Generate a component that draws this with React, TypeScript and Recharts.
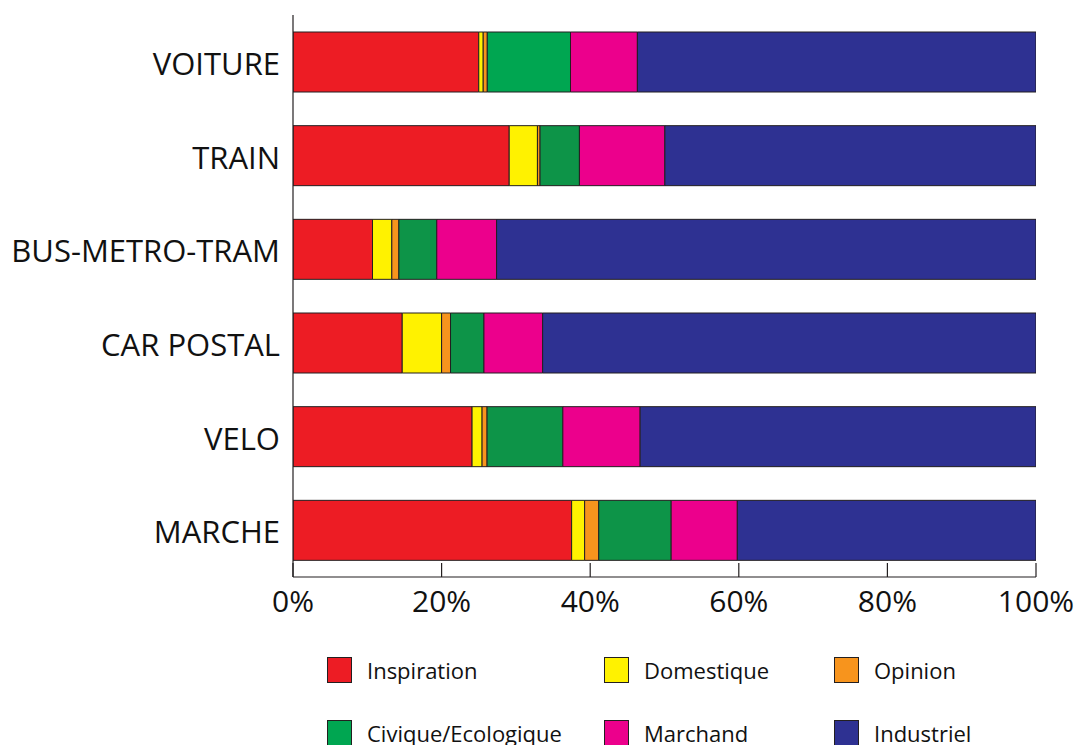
import { BarChart, Bar, XAxis, YAxis, Cell } from "recharts";

const modes = ["VOITURE", "TRAIN", "BUS-METRO-TRAM", "CAR POSTAL", "VELO", "MARCHE"];

const inspiration = [25.0, 29.1, 10.7, 14.7, 24.1, 37.5];
const domestique = [0.6, 3.8, 2.6, 5.3, 1.35, 1.75];
const opinion = [0.55, 0.35, 0.95, 1.2, 0.67, 1.9];
const civique = [11.2, 5.3, 5.1, 4.5, 10.2, 9.75];
const marchand = [9.0, 11.5, 8.05, 7.9, 10.4, 8.9];
const industriel = [53.65, 49.95, 72.6, 66.4, 53.28, 40.2];

const xTicks = [0, 20, 40, 60, 80, 100];

const data = modes.map((name, i) => ({
  name,
  inspiration: inspiration[i],
  domestique: domestique[i],
  opinion: opinion[i],
  civique: civique[i],
  marchand: marchand[i],
  industriel: industriel[i],
}));

const series = [
  { key: "inspiration", label: "Inspiration", color: "#ED1C24" },
  { key: "domestique", label: "Domestique", color: "#FFF200" },
  { key: "opinion", label: "Opinion", color: "#F7941D" },
  { key: "civique", label: "Civique/Ecologique", color: "#00A651" },
  { key: "marchand", label: "Marchand", color: "#EC008C" },
  { key: "industriel", label: "Industriel", color: "#2E3192" },
];

const FONT = "'Open Sans', sans-serif";
const INK = "#231F20";

// darker green on every row except the first one
const civiqueColor = (i: number) => (i === 0 ? "#00A651" : "#0D9448");

function XTick(props: any) {
  const { x, y, payload } = props;
  return (
    <g>
      <line x1={x} x2={x} y1={y - 14} y2={y} stroke={INK} strokeWidth={1.2} />
      <text x={x} y={y + 35} textAnchor="middle" fontSize={30} fontFamily={FONT} fill="#111">
        {`${payload.value}%`}
      </text>
    </g>
  );
}

const legendCols = [327, 604, 834];
const legendRows = [657, 720];

export default function App() {
  return (
    <div style={{ position: "absolute", left: 0, top: 0, width: 1079, height: 745, background: "#fff" }}>
      <BarChart
        width={1079}
        height={745}
        data={data}
        layout="vertical"
        margin={{ top: 15, right: 43, left: 0, bottom: 118 }}
      >
        <XAxis
          type="number"
          domain={[0, 100]}
          ticks={xTicks}
          allowDataOverflow
          height={50}
          tickLine={false}
          tickSize={0}
          tickMargin={0}
          axisLine={{ stroke: INK, strokeWidth: 1.2 }}
          tick={<XTick />}
        />
        <YAxis
          type="category"
          dataKey="name"
          width={293}
          tickLine={false}
          tickSize={0}
          tickMargin={13}
          axisLine={{ stroke: INK, strokeWidth: 1.2 }}
          tick={{ fontSize: 31, fontFamily: FONT, fill: "#111", dy: 2 }}
        />
        {series.map((s) => (
          <Bar
            key={s.key}
            dataKey={s.key}
            stackId="a"
            fill={s.color}
            stroke={INK}
            strokeWidth={1}
            barSize={60}
            isAnimationActive={false}
          >
            {s.key === "civique" && data.map((_, i) => <Cell key={i} fill={civiqueColor(i)} />)}
          </Bar>
        ))}
      </BarChart>
      {series.map((s, i) => {
        const left = legendCols[i % 3];
        const top = legendRows[Math.floor(i / 3)];
        return (
          <div key={s.key} style={{ position: "absolute", left, top, display: "flex", alignItems: "center" }}>
            <div
              style={{
                width: 23,
                height: 24,
                background: s.color,
                border: `1.5px solid ${INK}`,
              }}
            />
            <span style={{ marginLeft: 15, fontFamily: FONT, fontSize: 22, color: "#111", lineHeight: "26px" }}>
              {s.label}
            </span>
          </div>
        );
      })}
    </div>
  );
}
